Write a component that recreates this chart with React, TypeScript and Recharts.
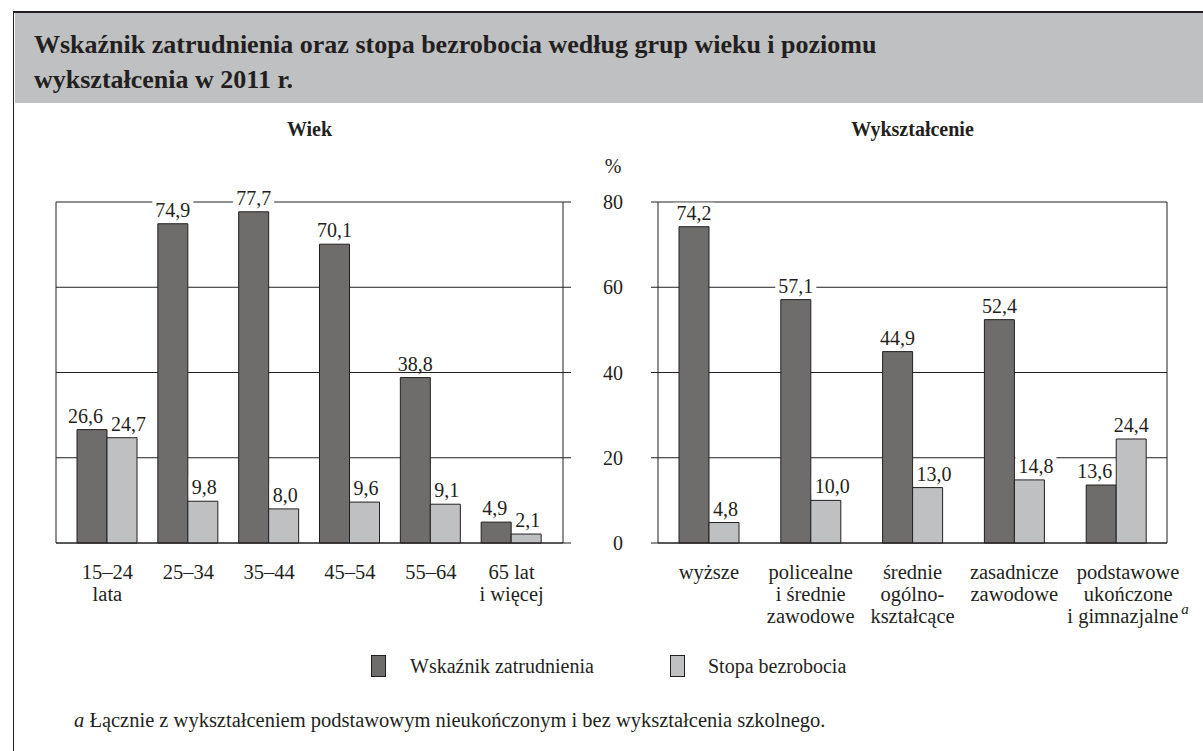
import React from 'react';
import { BarChart, Bar, XAxis, YAxis, CartesianGrid, LabelList } from 'recharts';

const ageCategories = ['15–24\nlata', '25–34', '35–44', '45–54', '55–64', '65 lat\ni więcej'];
const ageEmployment = [26.6, 74.9, 77.7, 70.1, 38.8, 4.9];
const ageUnemployment = [24.7, 9.8, 8.0, 9.6, 9.1, 2.1];

const eduCategories = [
  'wyższe',
  'policealne\ni średnie\nzawodowe',
  'średnie\nogólno-\nkształcące',
  'zasadnicze\nzawodowe',
  'podstawowe\nukończone\ni gimnazjalne',
];
const eduFootnoteMarks = ['', '', '', '', 'a'];
const eduEmployment = [74.2, 57.1, 44.9, 52.4, 13.6];
const eduUnemployment = [4.8, 10.0, 13.0, 14.8, 24.4];

const yTicks = [0, 20, 40, 60, 80];

const titleLines = [
  'Wskaźnik zatrudnienia oraz stopa bezrobocia według grup wieku i poziomu',
  'wykształcenia w 2011 r.',
];
const leftTitle = 'Wiek';
const rightTitle = 'Wykształcenie';
const unitLabel = '%';
const seriesNames = ['Wskaźnik zatrudnienia', 'Stopa bezrobocia'];
const footnoteMark = 'a';
const footnoteText = ' Łącznie z wykształceniem podstawowym nieukończonym i bez wykształcenia szkolnego.';

const FONT = '"Liberation Serif", "Times New Roman", serif';
const INK = '#231f20';
const DARK = '#6e6d6b';
const LIGHT = '#bfc0c2';
const FS = 20;
const TICK_FS = 20.5;

const fmt = (v: number) => v.toFixed(1).replace('.', ',');
const textW = (s: string) =>
  s.split('').reduce((a, c) => a + (c === ',' ? 0.25 : 0.5), 0) * FS;

const buildRows = (cats: string[], emp: number[], unemp: number[], marks?: string[]) =>
  cats.map((c, i) => ({ name: c, mark: marks ? marks[i] : '', emp: emp[i], unemp: unemp[i] }));

const ageData = buildRows(ageCategories, ageEmployment, ageUnemployment);
const eduData = buildRows(eduCategories, eduEmployment, eduUnemployment, eduFootnoteMarks);

const makeLabel = (kind: 'emp' | 'unemp', emp: number[], unemp: number[]) => (props: any) => {
  const vb = props.viewBox && props.viewBox.width !== undefined ? props.viewBox : props;
  const x = Number(vb.x);
  const y = Number(vb.y);
  const width = Number(vb.width);
  const index = props.index;
  const value = Number(props.value);
  const s = fmt(value);
  const w = textW(s);
  let cx = x + width / 2;
  if (kind === 'emp') {
    if (unemp[index] > emp[index] - 5) cx = Math.min(cx, x + width - w / 2 - 4);
  } else {
    if (emp[index] > unemp[index]) cx = Math.max(cx, x + w / 2 + 4);
  }
  const cy = y - 14;
  return (
    <g>
      <rect x={cx - w / 2 - 3} y={cy - 10} width={w + 6} height={18} fill="#ffffff" />
      <text
        x={cx}
        y={cy}
        textAnchor="middle"
        dominantBaseline="central"
        fontFamily={FONT}
        fontSize={FS}
        fill={INK}
      >
        {s}
      </text>
    </g>
  );
};

const CategoryTick = (props: any) => {
  const { x, y, payload, index, marks } = props;
  const lines = String(payload.value).split('\n');
  const mark = marks ? marks[index] : '';
  const tx = mark ? x + 12 : x;
  return (
    <text x={tx} y={y} textAnchor="middle" fontFamily={FONT} fontSize={TICK_FS} fill={INK}>
      {lines.map((l, i) => (
        <tspan key={i} x={tx} dy={i === 0 ? 36 : 22}>
          {l}
          {i === lines.length - 1 && mark ? (
            <tspan dx={3} dy={-9} fontStyle="italic" fontSize={15}>
              {mark}
            </tspan>
          ) : null}
        </tspan>
      ))}
    </text>
  );
};

const EmptyTick = () => <g />;

const abs = (s: React.CSSProperties): React.CSSProperties => ({ position: 'absolute', ...s });

export default function App() {
  return (
    <div style={abs({ left: 0, top: 0, width: 1203, height: 751, background: '#fff', overflow: 'hidden', fontFamily: FONT, color: INK })}>
      {/* frame */}
      <div style={abs({ left: 13, top: 11, width: 1300, height: 800, borderLeft: `1.5px solid ${INK}`, borderTop: `2px solid ${INK}` })} />
      <div style={abs({ left: 14.5, top: 13, width: 1300, height: 90, background: '#bfc0c2' })} />
      {titleLines.map((t, i) => (
        <div key={i} style={abs({ left: 34, top: 28 + i * 35, fontSize: 26, fontWeight: 'bold', lineHeight: '34px', whiteSpace: 'nowrap', height: 34, display: 'flex', alignItems: 'center' })}>
          {t}
        </div>
      ))}

      {/* subtitles */}
      <div style={abs({ left: 56, width: 507, top: 117, textAlign: 'center', fontSize: 20, fontWeight: 'bold', lineHeight: '24px' })}>{leftTitle}</div>
      <div style={abs({ left: 658, width: 509, top: 117, textAlign: 'center', fontSize: 20, fontWeight: 'bold', lineHeight: '24px' })}>{rightTitle}</div>
      <div style={abs({ left: 600, width: 26, top: 154, textAlign: 'center', fontSize: 20, lineHeight: '24px' })}>{unitLabel}</div>

      {/* left chart */}
      <div style={abs({ left: 0, top: 0 })}>
        <BarChart width={600} height={660} data={ageData} margin={{ top: 202, right: 0, bottom: 0, left: 0 }} barGap={0} barSize={30}>
          <CartesianGrid horizontal vertical={false} stroke={INK} strokeOpacity={1} />
          <XAxis
            dataKey="name"
            height={117}
            padding={{ left: 11, right: 11 }}
            tickLine={false}
            axisLine={{ stroke: INK }}
            tickSize={0}
            tickMargin={0}
            interval={0}
            tick={<CategoryTick />}
          />
          <YAxis orientation="right" width={37} domain={[0, 80]} ticks={yTicks} tick={EmptyTick} tickSize={8} tickLine={{ stroke: INK }} axisLine={{ stroke: INK }} />
          <YAxis yAxisId="l" orientation="left" width={56} domain={[0, 80]} ticks={yTicks} tick={false} tickLine={false} axisLine={{ stroke: INK }} />
          <Bar dataKey="emp" name={seriesNames[0]} fill={DARK} stroke={INK} strokeWidth={1} isAnimationActive={false}>
            <LabelList dataKey="emp" content={makeLabel('emp', ageEmployment, ageUnemployment)} />
          </Bar>
          <Bar dataKey="unemp" name={seriesNames[1]} fill={LIGHT} stroke={INK} strokeWidth={1} isAnimationActive={false}>
            <LabelList dataKey="unemp" content={makeLabel('unemp', ageEmployment, ageUnemployment)} />
          </Bar>
        </BarChart>
      </div>

      {/* right chart */}
      <div style={abs({ left: 560, top: 0 })}>
        <BarChart width={643} height={660} data={eduData} margin={{ top: 202, right: 0, bottom: 0, left: 0 }} barGap={0} barSize={30}>
          <CartesianGrid horizontal vertical={false} stroke={INK} strokeOpacity={1} />
          <XAxis
            dataKey="name"
            height={117}
            tickLine={false}
            axisLine={{ stroke: INK }}
            tickSize={0}
            tickMargin={0}
            interval={0}
            tick={<CategoryTick marks={eduFootnoteMarks} />}
          />
          <YAxis
            orientation="left"
            width={98}
            domain={[0, 80]}
            ticks={yTicks}
            tickSize={7}
            tickMargin={28}
            tickLine={{ stroke: INK }}
            axisLine={{ stroke: INK }}
            tick={{ fontFamily: FONT, fontSize: FS, fill: INK }}
          />
          <YAxis yAxisId="r" orientation="right" width={36} domain={[0, 80]} ticks={yTicks} tick={false} tickLine={false} axisLine={{ stroke: INK }} />
          <Bar dataKey="emp" name={seriesNames[0]} fill={DARK} stroke={INK} strokeWidth={1} isAnimationActive={false}>
            <LabelList dataKey="emp" content={makeLabel('emp', eduEmployment, eduUnemployment)} />
          </Bar>
          <Bar dataKey="unemp" name={seriesNames[1]} fill={LIGHT} stroke={INK} strokeWidth={1} isAnimationActive={false}>
            <LabelList dataKey="unemp" content={makeLabel('unemp', eduEmployment, eduUnemployment)} />
          </Bar>
        </BarChart>
      </div>

      {/* legend */}
      <div style={abs({ left: 371, top: 655, width: 15, height: 22, boxSizing: 'border-box', background: DARK, border: `1px solid ${INK}` })} />
      <div style={abs({ left: 410, top: 654, fontSize: 20, lineHeight: '24px', whiteSpace: 'nowrap' })}>{seriesNames[0]}</div>
      <div style={abs({ left: 670, top: 655, width: 15, height: 22, boxSizing: 'border-box', background: LIGHT, border: `1px solid ${INK}` })} />
      <div style={abs({ left: 708, top: 654, fontSize: 20, lineHeight: '24px', whiteSpace: 'nowrap' })}>{seriesNames[1]}</div>

      {/* footnote */}
      <div style={abs({ left: 74, top: 708, fontSize: 20.5, lineHeight: '24px', whiteSpace: 'nowrap' })}>
        <i>{footnoteMark}</i>
        {footnoteText}
      </div>
    </div>
  );
}
